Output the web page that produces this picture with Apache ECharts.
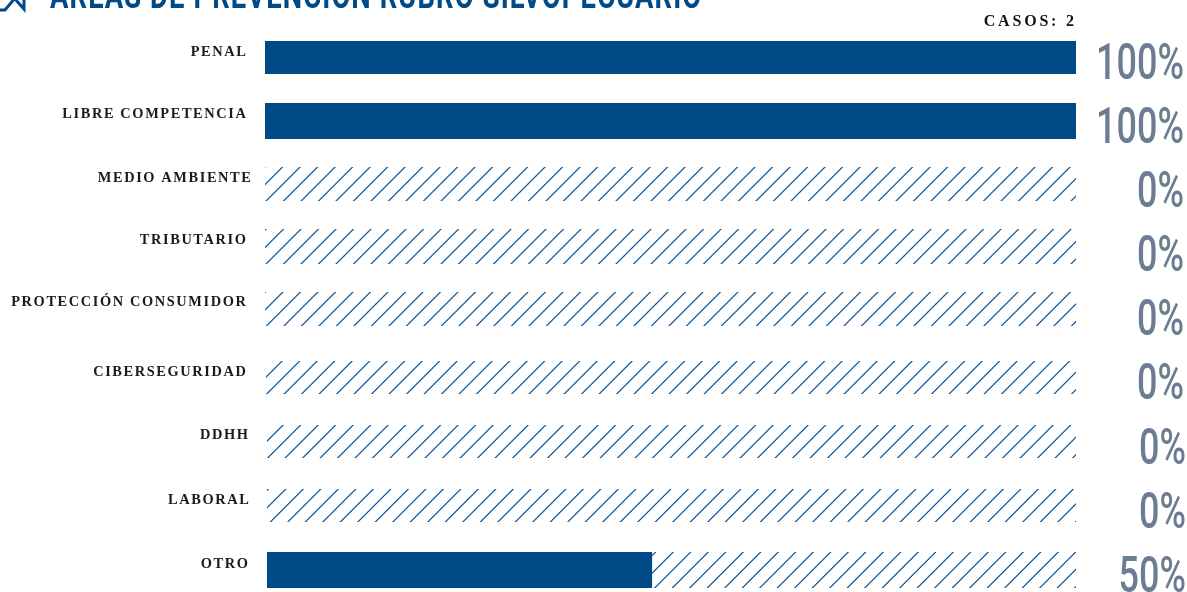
<!DOCTYPE html>
<html><head><meta charset="utf-8">
<style>html,body{margin:0;padding:0;background:#fff}#c{width:1187px;height:592px}</style>
<script src="https://cdn.jsdelivr.net/npm/echarts@6/dist/echarts.min.js"></script></head>
<body><div id="c"></div>
<script>
const categories = ['PENAL','LIBRE COMPETENCIA','MEDIO AMBIENTE','TRIBUTARIO','PROTECCIÓN CONSUMIDOR','CIBERSEGURIDAD','DDHH','LABORAL','OTRO'];
const filled = [100,100,0,0,0,0,0,0,47.6];
const percentLabels = [100,100,0,0,0,0,0,0,50];
const casesLabel = 'CASOS: 2';
const titleText = 'ÁREAS DE PREVENCIÓN RUBRO SILVOPECUARIO';

// layout of the small-multiple rows (pixels)
const rowTop = [41,103,167,229,292,361,425,489,552];
const rowHeight = [33,36,34,35,34,33,33,33,36];
const rowLeft = [265,265,265,265,265,266,267,267,267];
const rowRight = 1076;
const labelRight = [247,247,252,247,247,247,249,250,249];
const labelCenterY = [52,114,178,240,302,372,435,500,564];
const pctRight = [1184,1184,1184,1184,1184,1184,1186,1186,1186];
const pctCenterY = [66,130,194,258,322,386,451,515,579];
const hatchSum = [0,0,467,530,592.4,660.6,725.6,792.3,1242.7];

const BLUE = '#004b87', HATCH = '#0f5796', GREY = '#6c7d93', INK = '#1a1a1a';
const PERIOD = 17.5;

// tracked look of the serif labels and the title
const nativeFill = CanvasRenderingContext2D.prototype.fillText;
CanvasRenderingContext2D.prototype.fillText = function(t,x,y,m){
  if(this.font.indexOf('Liberation Serif')>=0){
    const ls = this.font.indexOf('16px')>=0 ? 2.8 : 1.6;
    this.letterSpacing = ls+'px';
    if(this.textAlign==='right') x += ls*0.3;
  } else if(this.font.indexOf('37px')>=0){
    this.letterSpacing = '1.5px';
  } else this.letterSpacing = '0px';
  return m===undefined ? nativeFill.call(this,t,x,y) : nativeFill.call(this,t,x,y,m);
};

function hatchTile(){
  const s = PERIOD*2, k = 2, cv = document.createElement('canvas');
  cv.width = cv.height = s*k;
  const c = cv.getContext('2d');
  c.scale(k,k);
  c.strokeStyle = HATCH; c.lineWidth = 1.25;
  for(let n=-1;n<=5;n++){ const v=n*PERIOD; c.beginPath(); c.moveTo(v+2,-2); c.lineTo(v-s-2,s+2); c.stroke(); }
  return cv;
}
const tile = hatchTile();

const chart = echarts.init(document.getElementById('c'),null,{renderer:'canvas'});
const grids=[],xAxes=[],yAxes=[],series=[];
categories.forEach((name,i)=>{
  grids.push({left:rowLeft[i],width:rowRight-rowLeft[i],top:rowTop[i],height:rowHeight[i]});
  xAxes.push({type:'value',gridIndex:i,min:0,max:100,show:false});
  yAxes.push({type:'category',gridIndex:i,data:[name],
    axisLine:{show:false},axisTick:{show:false},
    axisLabel:{show:true,margin:rowLeft[i]-labelRight[i],
      fontFamily:'Liberation Serif',fontWeight:'bold',fontSize:14.4,color:INK,
      verticalAlign:'bottom',
      lineHeight:2*((rowTop[i]+rowHeight[i]/2)-labelCenterY[i])}});
  series.push({type:'bar',xAxisIndex:i,yAxisIndex:i,stack:'r'+i,barWidth:'100%',silent:true,
    data:[filled[i]],itemStyle:{color:BLUE}});
  const sum = hatchSum[i] % PERIOD;
  series.push({type:'bar',xAxisIndex:i,yAxisIndex:i,stack:'r'+i,barWidth:'100%',silent:true,
    data:[100-filled[i]],
    itemStyle:{color: i<2 ? 'rgba(0,0,0,0)' : {image:tile,repeat:'repeat',x:sum,y:0,scaleX:.5,scaleY:.5}}});
  series.push({type:'custom',xAxisIndex:i,yAxisIndex:i,silent:true,data:[[100,0,percentLabels[i]]],
    encode:{x:0,y:1},
    renderItem(params,api){
      const right = api.coord([100,0])[0]+(pctRight[i]-rowRight);
      return {type:'text',x:right,y:pctCenterY[i],scaleX:.72,
        style:{text:api.value(2)+'%',textAlign:'right',textVerticalAlign:'middle',
          font:'500 50px Roboto',fill:GREY}};
    }});
});
chart.setOption({animation:false,backgroundColor:'#fff',grid:grids,xAxis:xAxes,yAxis:yAxes,series,
  graphic:[
    {type:'text',x:50,y:17,scaleX:.74,style:{text:titleText,textAlign:'left',textVerticalAlign:'bottom',font:'700 37px Roboto',fill:BLUE}},
    {type:'text',x:1076,y:22,style:{text:casesLabel,textAlign:'right',textVerticalAlign:'middle',font:'bold 16px "Liberation Serif"',fill:'#111'}},
    {type:'polyline',shape:{points:[[-2,10],[5,10],[15,-2]]},style:{stroke:BLUE,lineWidth:3,fill:null}},
    {type:'polyline',shape:{points:[[24,-2],[24,9],[15,-1]]},style:{stroke:BLUE,lineWidth:3,fill:null}}
  ]});
</script></body></html>
